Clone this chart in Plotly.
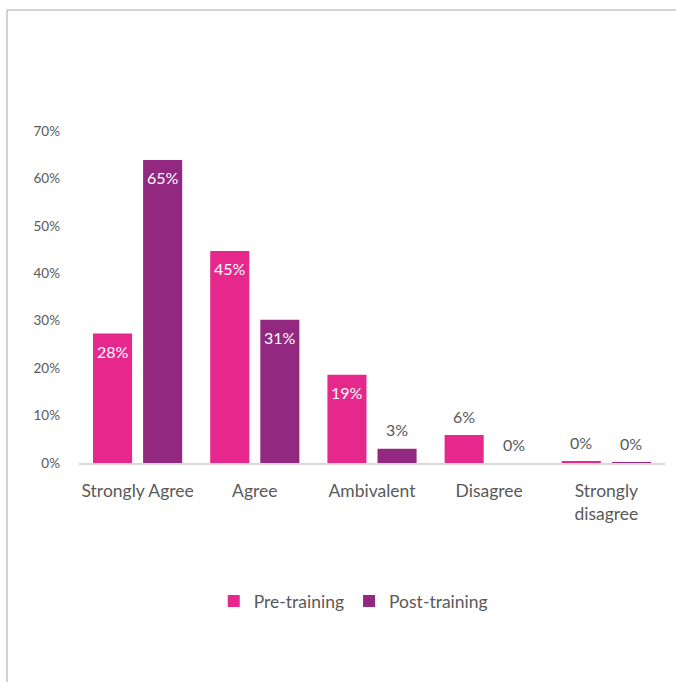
import plotly.graph_objects as go

categories = ["Strongly Agree", "Agree", "Ambivalent", "Disagree", "Strongly<br>disagree"]
pre_values = [27.3, 44.7, 18.6, 5.9, 0.4]
post_values = [63.9, 30.2, 3.0, 0.0, 0.15]
pre_labels = ["28%", "45%", "19%", "6%", "0%"]
post_labels = ["65%", "31%", "3%", "0%", "0%"]
pre_inside = [True, True, True, False, False]
post_inside = [True, True, False, False, False]
y_ticks = [0, 10, 20, 30, 40, 50, 60, 70]

PINK = "#E6288D"
PURPLE = "#92287F"
FONT = "Lato"

W, H = 676, 682
ML, MR, MT, MB = 79, 11, 131, 219

fig = go.Figure()
fig.add_trace(go.Bar(name="Pre-training", x=categories, y=pre_values,
                     marker=dict(color=PINK, line=dict(width=0)), hoverinfo="skip"))
fig.add_trace(go.Bar(name="Post-training", x=categories, y=post_values,
                     marker=dict(color=PURPLE, line=dict(width=0)), hoverinfo="skip"))

annotations = []
for vals, labs, ins, shift in [(pre_values, pre_labels, pre_inside, -25),
                               (post_values, post_labels, post_inside, 25)]:
    for c, v, t, i in zip(categories, vals, labs, ins):
        annotations.append(dict(
            x=c, y=v, xref="x", yref="y", text=t, showarrow=False,
            xshift=shift, yshift=-18 if i else 19,
            font=dict(family=FONT, size=16, color="white" if i else "#595959"),
        ))

pw = W - ML - MR
ph = H - MT - MB
fig.add_shape(type="rect", xref="paper", yref="paper",
              x0=(7 - ML) / pw, x1=(W + 20 - ML) / pw,
              y0=(H - MB - (H + 20)) / ph, y1=(H - MB - 10) / ph,
              line=dict(color="#A6A6A6", width=1), fillcolor="rgba(0,0,0,0)")

fig.update_layout(
    width=W, height=H,
    margin=dict(l=ML, r=MR, t=MT, b=MB),
    paper_bgcolor="white", plot_bgcolor="white",
    barmode="group", bargap=0.145, bargroupgap=0.22,
    font=dict(family=FONT, color="#595959"),
    annotations=annotations,
    showlegend=True,
    legend=dict(orientation="h", x=0.468, xanchor="center", y=(H - MB - 601) / ph,
                yanchor="middle", font=dict(family=FONT, size=17.5, color="#595959"),
                itemclick=False, itemdoubleclick=False),
    xaxis=dict(showline=True, linecolor="#D9D9D9", linewidth=1.5, ticks="",
               tickfont=dict(family=FONT, size=17.5, color="#595959"),
               ticklabelstandoff=11, showgrid=False, zeroline=False, fixedrange=True),
    yaxis=dict(range=[0, 70], tickvals=y_ticks,
               ticktext=[f"{v}%" for v in y_ticks],
               tickfont=dict(family=FONT, size=13.5, color="#595959"),
               showgrid=False, zeroline=False, showline=False,
               ticklabelstandoff=18, fixedrange=True),
)

fig.write_html("out.html", config={"displayModeBar": False})
